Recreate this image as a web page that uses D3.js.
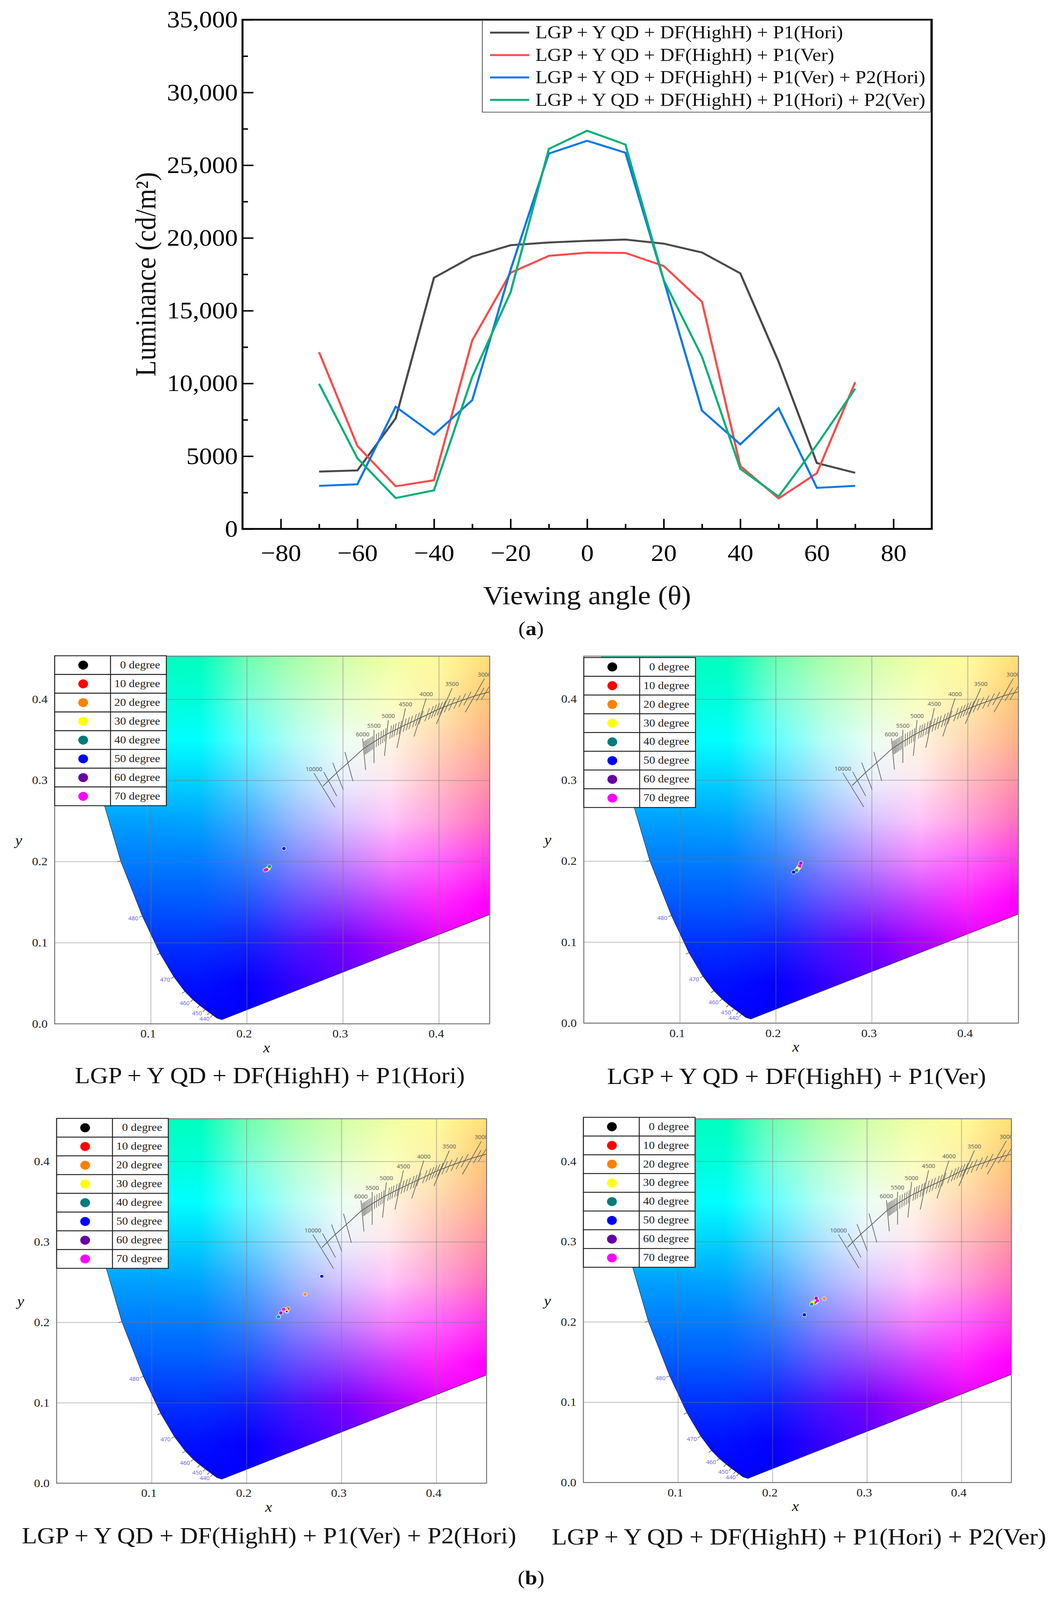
<!DOCTYPE html>
<html>
<head>
<meta charset="utf-8">
<script src="https://cdn.jsdelivr.net/npm/d3@7"></script>
<style>
  html, body { margin: 0; background: #fff; overflow: hidden; }
  text { font-family: "Liberation Serif", serif; }
</style>
</head>
<body>
<div id="root"></div>
<script>
// (a) luminance vs viewing angle
var angles = [-70, -60, -50, -40, -30, -20, -10, 0, 10, 20, 30, 40, 50, 60, 70];
var seriesNames = [
  'LGP + Y QD + DF(HighH) + P1(Hori)',
  'LGP + Y QD + DF(HighH) + P1(Ver)',
  'LGP + Y QD + DF(HighH) + P1(Ver) + P2(Hori)',
  'LGP + Y QD + DF(HighH) + P1(Hori) + P2(Ver)'
];
var lumHori = [3940, 4020, 7600, 17260, 18715, 19500, 19690, 19800, 19890, 19610, 19000, 17570, 11500, 4525, 3855];
var lumVer = [12150, 5700, 2930, 3350, 12960, 17600, 18770, 18990, 18970, 18070, 15610, 4330, 2095, 3830, 10080];
var lumVerHori = [2960, 3070, 8400, 6480, 8850, 17800, 25800, 26680, 25860, 17100, 8130, 5810, 8300, 2820, 2960];
var lumHoriVer = [9970, 4860, 2120, 2650, 10450, 16260, 26120, 27370, 26420, 17100, 11840, 4130, 2230, 5780, 9640];
var lumSeries = [lumHori, lumVer, lumVerHori, lumHoriVer];
var lineColors = ['#4a4a4a', '#fb4b4b', '#0a78e8', '#07b074'];
var xTicks = [-80, -60, -40, -20, 0, 20, 40, 60, 80];
var xMinorTicks = [-70, -50, -30, -10, 10, 30, 50, 70];
var yTicks = [0, 5000, 10000, 15000, 20000, 25000, 30000, 35000];
var yTickLabels = ['0', '5000', '10,000', '15,000', '20,000', '25,000', '30,000', '35,000'];
var yMinorTicks = [2500, 7500, 12500, 17500, 22500, 27500, 32500];

// (b) chromaticity of the eight angles, one list per panel
var degreeLabels = ['0 degree', '10 degree', '20 degree', '30 degree', '40 degree', '50 degree', '60 degree', '70 degree'];
var legendColors = ['#000000', '#ff0000', '#ff8000', '#ffff00', '#007b7b', '#0000ff', '#6600a6', '#ff00ff'];
var markColors = ['#202020', '#f04030', '#ff9000', '#ffff00', '#009a80', '#0000f0', '#ad14a0', '#ff00f0'];
var pointsX1 = [0.2222, 0.2222, 0.2215, 0.2222, 0.2236, 0.2387, 0.2205, 0.2192];
var pointsY1 = [0.1912, 0.1912, 0.1905, 0.1912, 0.1938, 0.2160, 0.1900, 0.1893];
var pointsX2 = [0.2236, 0.2245, 0.2218, 0.2236, 0.2218, 0.2187, 0.2262, 0.2252];
var pointsY2 = [0.1913, 0.1925, 0.1885, 0.1913, 0.1885, 0.1863, 0.1975, 0.1942];
var pointsX3 = [0.2424, 0.2437, 0.2617, 0.2421, 0.2337, 0.2794, 0.2362, 0.2392];
var pointsY3 = [0.2136, 0.2168, 0.2348, 0.2159, 0.2067, 0.2572, 0.2116, 0.2161];
var pointsX4 = [0.2459, 0.2445, 0.2548, 0.2431, 0.2416, 0.2338, 0.2464, 0.2476];
var pointsY4 = [0.2244, 0.2238, 0.2289, 0.2240, 0.2219, 0.2088, 0.2296, 0.2263];
var pointLists = [[pointsX1, pointsY1], [pointsX2, pointsY2], [pointsX3, pointsY3], [pointsX4, pointsY4]];

// spectral locus, short to long edge of the visible window
var locusX = [0.0082, 0.0235, 0.0454, 0.0687, 0.0913, 0.1096, 0.1241, 0.1355, 0.1440, 0.1510, 0.1566, 0.1611, 0.1644, 0.1689, 0.1741];
var locusY = [0.5384, 0.4127, 0.2950, 0.2007, 0.1327, 0.0868, 0.0578, 0.0399, 0.0297, 0.0227, 0.0177, 0.0138, 0.0109, 0.0069, 0.0050];
var locusNm = [500, 495, 490, 485, 480, 475, 470, 465, 460, 455, 450, 445, 440, 430, 380];
var labelledNm = [480, 470, 460, 450, 440];
var tickedNm = [485, 480, 475, 470, 465, 460, 455, 450, 445, 440];
var purpleEnd = [0.7347, 0.2653];

// colours on a coarse x,y grid
var gamutXs = [0.05, 0.1, 0.15, 0.2, 0.25, 0.3, 0.35, 0.4, 0.45];
var gamutYs = [0.45, 0.4, 0.35, 0.3, 0.25, 0.2, 0.15, 0.1, 0.05, 0];
var gamutColors = [
  ['#00ffbe', '#00ffbe', '#00ffbe', '#6effb4', '#aaffaa', '#d2ffaa', '#f0ffa5', '#fffa9b', '#ffe178'],
  ['#00ffd7', '#00ffd7', '#00ffdc', '#78ffdc', '#b4ffd2', '#e1ffcd', '#faffbe', '#fff0aa', '#ffc878'],
  ['#00ffff', '#00ffff', '#00ffff', '#64ffff', '#b4fff5', '#ebfff5', '#fff5e1', '#ffd7b4', '#ffb48c'],
  ['#00d2ff', '#00d2ff', '#00d2ff', '#5ad7ff', '#aae1ff', '#ebf0ff', '#ffe6f0', '#ffbec3', '#ff96a5'],
  ['#00a0ff', '#00a0ff', '#00a5ff', '#46aaff', '#9bb9ff', '#d7c3ff', '#ffc3fa', '#ffa0dc', '#ff73be'],
  ['#007dff', '#007dff', '#007dff', '#3282ff', '#8287ff', '#be87ff', '#f582ff', '#ff64ff', '#ff3ceb'],
  ['#005aff', '#005aff', '#005aff', '#1e55ff', '#6450ff', '#9646ff', '#cd3cff', '#ff28ff', '#ff00ff'],
  ['#0032ff', '#0032ff', '#0032ff', '#0f23ff', '#4614ff', '#7300ff', '#aa00ff', '#dc00ff', '#ff00ff'],
  ['#0014ff', '#0014ff', '#000fff', '#0500ff', '#3200ff', '#5a00ff', '#8200ff', '#b400ff', '#e600ff'],
  ['#0000ff', '#0000ff', '#0000ff', '#0000ff', '#2800ff', '#5000ff', '#7800ff', '#b400ff', '#ff00ff']
];

// blackbody curve and its isotherms
var bbX = [0.2795, 0.2852, 0.2938, 0.3054, 0.3210, 0.3325, 0.3459, 0.3645, 0.3832, 0.4000, 0.4143, 0.4376, 0.4532];
var bbY = [0.2930, 0.2996, 0.3094, 0.3216, 0.3385, 0.3474, 0.3569, 0.3679, 0.3782, 0.3878, 0.3944, 0.4040, 0.4091];
var isoTopX = [0.2700, 0.2802, 0.2896, 0.3023, 0.3207, 0.3325, 0.3474, 0.3653, 0.3869, 0.4138, 0.4476];
var isoTopY = [0.3088, 0.3103, 0.3216, 0.3349, 0.3515, 0.3621, 0.3741, 0.3888, 0.4010, 0.4135, 0.4253];
var isoBottomX = [0.2918, 0.2938, 0.3005, 0.3106, 0.3238, 0.3325, 0.3434, 0.3565, 0.3742, 0.3975, 0.4275];
var isoBottomY = [0.2667, 0.2804, 0.2882, 0.2988, 0.3128, 0.3212, 0.3300, 0.3400, 0.3540, 0.3694, 0.3838];
var isoLabels = ['10000', '', '', '', '6000', '5500', '5000', '4500', '4000', '3500', '3000'];
var shortTickX = [0.3229, 0.3241, 0.3253, 0.3266, 0.3280, 0.3295, 0.3311, 0.3350, 0.3373, 0.3397, 0.3420, 0.3443,
  0.3498, 0.3521, 0.3544, 0.3575, 0.3599, 0.3645, 0.3677, 0.3708, 0.3747, 0.3778, 0.3816, 0.3879, 0.3918, 0.3949,
  0.3980, 0.4011, 0.4042, 0.4089, 0.4135, 0.4190, 0.4244, 0.4299, 0.4431, 0.4485];
var gridTicks = [0.1, 0.2, 0.3, 0.4];
var yAxisTicks = [0, 0.1, 0.2, 0.3, 0.4];
var axisMax = 0.453;

// pixel boxes of the five plots
var lumBox = { l: 621, r: 2386, t: 55, b: 1476 };
var panelBoxes = [
  { l: 140, r: 1254, t: 1831, b: 2857, legendTop: 1830, captionX: 691, captionY: 3002 },
  { l: 1495, r: 2608, t: 1831, b: 2855, legendTop: 1835, captionX: 2040, captionY: 3004 },
  { l: 145, r: 1246, t: 3122, b: 4139, legendTop: 3121, captionX: 689, captionY: 4287 },
  { l: 1494, r: 2590, t: 3122, b: 4137, legendTop: 3118, captionX: 2046, captionY: 4290 }
];

// the real window is shorter than 4465, so the layout is fitted to it
var svg = d3.select('#root')
  .append('svg')
    .attr('viewBox', '0 0 2717 4465')
    .attr('preserveAspectRatio', 'none')
    .style('width', '100vw')
    .style('height', '100vh')
    .style('display', 'block');

var drawLuminance = () => {
  var x = d3.scaleLinear().domain([-90, 90]).range([lumBox.l, lumBox.r]);
  var y = d3.scaleLinear().domain([0, 35000]).range([lumBox.b, lumBox.t]);
  var g = svg.append('g');

  var line = d3.line()
    .x((d, i) => x(angles[i]))
    .y(d => y(d));
  g.selectAll('path.lum')
    .data(lumSeries)
    .enter()
    .append('path')
      .attr('class', 'lum')
      .attr('d', line)
      .attr('fill', 'none')
      .attr('stroke', (d, i) => lineColors[i])
      .attr('stroke-width', 5.5);

  // ticks point inward
  var bottom = g.append('g')
    .attr('transform', 'translate(0,' + lumBox.b + ')')
    .call(d3.axisBottom(x).tickValues(xTicks).tickSizeInner(-28).tickSizeOuter(0)
      .tickFormat(d => String(d).replace('-', '\u2212')));
  bottom.selectAll('text').attr('font-size', 66).attr('y', 42).attr('dy', '.71em')
    .style('font-family', '"Liberation Serif", serif');
  g.append('g')
    .attr('transform', 'translate(0,' + lumBox.b + ')')
    .call(d3.axisBottom(x).tickValues(xMinorTicks).tickSizeInner(-14).tickSizeOuter(0).tickFormat(''));

  var left = g.append('g')
    .attr('transform', 'translate(' + lumBox.l + ',0)')
    .call(d3.axisLeft(y).tickValues(yTicks).tickSizeInner(-28).tickSizeOuter(0)
      .tickFormat((d, i) => yTickLabels[i]));
  left.selectAll('text').attr('font-size', 66).attr('x', -12)
    .style('font-family', '"Liberation Serif", serif');
  g.append('g')
    .attr('transform', 'translate(' + lumBox.l + ',0)')
    .call(d3.axisLeft(y).tickValues(yMinorTicks).tickSizeInner(-14).tickSizeOuter(0).tickFormat(''));

  g.selectAll('.tick line').attr('stroke', '#000').attr('stroke-width', 4);
  g.selectAll('.domain').remove();

  g.append('rect')
    .attr('x', lumBox.l)
    .attr('y', lumBox.t)
    .attr('width', lumBox.r - lumBox.l)
    .attr('height', lumBox.b - lumBox.t)
    .attr('fill', 'none')
    .attr('stroke', '#000')
    .attr('stroke-width', 5);

  // legend
  g.append('rect')
    .attr('x', 1235)
    .attr('y', 57)
    .attr('width', 1148)
    .attr('height', 256)
    .attr('fill', '#fff')
    .attr('stroke', '#555')
    .attr('stroke-width', 2);
  seriesNames.forEach((name, i) => {
    var rowY = 91 + i * 62.6;
    g.append('line')
      .attr('x1', 1255)
      .attr('x2', 1355)
      .attr('y1', rowY)
      .attr('y2', rowY)
      .attr('stroke', lineColors[i])
      .attr('stroke-width', 5.5);
    g.append('text')
      .attr('x', 1371)
      .attr('y', rowY)
      .attr('dy', '.32em')
      .attr('font-size', 50.5)
      .attr('fill', '#111')
      .text(name);
  });

  g.append('text')
    .attr('transform', 'translate(398,' + (lumBox.t + lumBox.b) / 2 + ') rotate(-90)')
    .attr('text-anchor', 'middle')
    .attr('font-size', 74)
    .attr('fill', '#111')
    .text('Luminance (cd/m\u00b2)');
  g.append('text')
    .attr('x', x(0))
    .attr('y', 1686)
    .attr('text-anchor', 'middle')
    .attr('font-size', 74)
    .attr('fill', '#111')
    .text('Viewing angle (\u03b8)');
};

// colour field painted once from the grid and reused, the polygon clip does the rest
var gamutImage = () => {
  var n = 600;
  var canvas = document.createElement('canvas');
  canvas.width = n;
  canvas.height = n;
  var ctx = canvas.getContext('2d');
  var img = ctx.createImageData(n, n);
  var rgb = gamutColors.map(row => row.map(c => d3.rgb(c)));
  var colAt = d3.scaleLinear().domain(gamutXs).range(d3.range(gamutXs.length)).clamp(true);
  var rowAt = d3.scaleLinear().domain(gamutYs.slice().reverse()).range(d3.range(gamutYs.length).reverse()).clamp(true);
  for (var row = 0; row < n; row++) {
    for (var col = 0; col < n; col++) {
      var fx = colAt((col + 0.5) / n * axisMax);
      var fy = rowAt((n - row - 0.5) / n * axisMax);
      var i0 = Math.min(Math.floor(fx), gamutXs.length - 2), j0 = Math.min(Math.floor(fy), gamutYs.length - 2);
      var u = fx - i0, v = fy - j0;
      var a = rgb[j0][i0], b = rgb[j0][i0 + 1], c = rgb[j0 + 1][i0], d = rgb[j0 + 1][i0 + 1];
      var k = (row * n + col) * 4;
      ['r', 'g', 'b'].forEach((ch, m) => {
        img.data[k + m] = (a[ch] * (1 - u) + b[ch] * u) * (1 - v) + (c[ch] * (1 - u) + d[ch] * u) * v;
      });
      img.data[k + 3] = 255;
    }
  }
  ctx.putImageData(img, 0, 0);
  return canvas.toDataURL('image/png');
};

var drawPanel = (box, i, href) => {
  var x = d3.scaleLinear().domain([0, axisMax]).range([box.l, box.r]);
  var y = d3.scaleLinear().domain([0, axisMax]).range([box.b, box.t]);
  var g = svg.append('g');
  var w = box.r - box.l, h = box.b - box.t;

  var defs = g.append('defs');
  defs.append('clipPath').attr('id', 'box' + i)
    .append('rect').attr('x', box.l).attr('y', box.t).attr('width', w).attr('height', h);

  var outline = locusX.map((d, j) => [d, locusY[j]]);
  var path = d3.line().x(d => x(d[0])).y(d => y(d[1]));
  var gamut = outline.concat([purpleEnd, [purpleEnd[0], locusY[0]]]);
  defs.append('clipPath').attr('id', 'gamut' + i)
    .append('path').attr('d', path(gamut) + 'Z');

  var clipped = g.append('g').attr('clip-path', 'url(#box' + i + ')');
  clipped.append('g').attr('clip-path', 'url(#gamut' + i + ')')
    .append('image')
      .attr('href', href)
      .attr('x', box.l)
      .attr('y', box.t)
      .attr('width', w)
      .attr('height', h)
      .attr('preserveAspectRatio', 'none');
  clipped.append('path')
    .attr('d', path(outline.concat([purpleEnd])))
    .attr('fill', 'none')
    .attr('stroke', '#222')
    .attr('stroke-width', 1.2);

  // grid comes from the axes
  var bottom = g.append('g')
    .attr('transform', 'translate(0,' + box.b + ')')
    .call(d3.axisBottom(x).tickValues(gridTicks).tickSizeInner(-h).tickSizeOuter(0).tickFormat(d3.format('.1f')));
  bottom.selectAll('text').attr('font-size', 32).attr('fill', '#222')
    .attr('x', -7).attr('y', 16).attr('dy', '.71em')
    .style('font-family', '"Liberation Serif", serif');
  var left = g.append('g')
    .attr('transform', 'translate(' + box.l + ',0)')
    .call(d3.axisLeft(y).tickValues(yAxisTicks).tickSizeInner(-w).tickSizeOuter(0).tickFormat(d3.format('.1f')));
  left.selectAll('text').attr('font-size', 32).attr('fill', '#222').attr('x', -18)
    .style('font-family', '"Liberation Serif", serif');
  g.selectAll('.tick line').attr('stroke', 'rgba(120,120,120,0.42)').attr('stroke-width', 2.5);
  g.selectAll('.domain').remove();

  g.append('rect')
    .attr('x', box.l)
    .attr('y', box.t)
    .attr('width', w)
    .attr('height', h)
    .attr('fill', 'none')
    .attr('stroke', '#777')
    .attr('stroke-width', 2.5);

  // wavelength ticks, normal to the locus
  tickedNm.forEach(nm => {
    var j = locusNm.indexOf(nm);
    var dx = x(locusX[j + 1]) - x(locusX[j - 1]);
    var dy = y(locusY[j + 1]) - y(locusY[j - 1]);
    var len = Math.hypot(dx, dy);
    var nx = -dy / len, ny = dx / len;
    if (nx > 0) { nx = -nx; ny = -ny; }
    var px = x(locusX[j]), py = y(locusY[j]);
    g.append('line')
      .attr('x1', px)
      .attr('y1', py)
      .attr('x2', px + nx * 9)
      .attr('y2', py + ny * 9)
      .attr('stroke', '#555')
      .attr('stroke-width', 1.6);
    if (labelledNm.indexOf(nm) >= 0) {
      g.append('text')
        .attr('x', px + nx * 9 - 2)
        .attr('y', py + ny * 9 + 4)
        .attr('dy', '.32em')
        .attr('text-anchor', 'end')
        .attr('font-size', 15)
        .attr('fill', '#6a5cf5')
        .style('font-family', '"Open Sans", sans-serif')
        .text(nm);
    }
  });

  // blackbody curve
  var bbLine = d3.line().x(d => x(d[0])).y(d => y(d[1]));
  clipped.append('path')
    .attr('d', bbLine(bbX.map((d, j) => [d, bbY[j]])))
    .attr('fill', 'none')
    .attr('stroke', '#5a5a5a')
    .attr('stroke-width', 2);
  var bbAt = d3.scaleLinear().domain(bbX).range(bbY);
  var slopeAt = d3.scaleLinear()
    .domain(isoTopX.map((d, j) => (d + isoBottomX[j]) / 2))
    .range(isoTopX.map((d, j) => (d - isoBottomX[j]) / (isoTopY[j] - isoBottomY[j])));
  isoTopX.forEach((d, j) => {
    clipped.append('line')
      .attr('x1', x(d))
      .attr('y1', y(isoTopY[j]))
      .attr('x2', x(isoBottomX[j]))
      .attr('y2', y(isoBottomY[j]))
      .attr('stroke', '#666')
      .attr('stroke-width', 1.8);
    if (isoLabels[j]) {
      clipped.append('text')
        .attr('x', x(d))
        .attr('y', y(isoTopY[j]) - 6)
        .attr('text-anchor', 'middle')
        .attr('font-size', 15)
        .attr('fill', '#555')
        .style('font-family', '"Open Sans", sans-serif')
        .text(isoLabels[j]);
    }
  });
  shortTickX.forEach(d => {
    var my = bbAt(d);
    var half = 0.0082;
    clipped.append('line')
      .attr('x1', x(d + slopeAt(d) * half))
      .attr('y1', y(my + half))
      .attr('x2', x(d - slopeAt(d) * half))
      .attr('y2', y(my - half))
      .attr('stroke', '#666')
      .attr('stroke-width', 1.6);
  });

  // measured points with their pale halo
  var px = pointLists[i][0], py = pointLists[i][1];
  var order = d3.range(px.length);
  g.selectAll('circle.halo')
    .data(order)
    .enter()
    .append('circle')
      .attr('class', 'halo')
      .attr('cx', d => x(px[d]))
      .attr('cy', d => y(py[d]))
      .attr('r', 6.5)
      .attr('fill', '#fff')
      .attr('fill-opacity', 0.55);
  g.selectAll('circle.mark')
    .data(order)
    .enter()
    .append('circle')
      .attr('class', 'mark')
      .attr('cx', d => x(px[d]))
      .attr('cy', d => y(py[d]))
      .attr('r', d => d === 0 ? 2.5 : 4.2)
      .attr('fill', d => markColors[d]);

  // degree table
  var rowH = 52.3;
  var rows = g.append('g').selectAll('g')
    .data(degreeLabels)
    .enter()
    .append('g')
      .attr('transform', (d, j) => 'translate(' + box.l + ',' + (box.legendTop + j * rowH) + ')');
  rows.append('rect')
    .attr('width', 286)
    .attr('height', rowH)
    .attr('fill', '#fff')
    .attr('stroke', '#222')
    .attr('stroke-width', 2.5);
  rows.append('line')
    .attr('x1', 143)
    .attr('x2', 143)
    .attr('y1', 0)
    .attr('y2', rowH)
    .attr('stroke', '#222')
    .attr('stroke-width', 2.5);
  rows.append('circle')
    .attr('cx', 73)
    .attr('cy', rowH / 2)
    .attr('r', 12.5)
    .attr('fill', (d, j) => legendColors[j]);
  rows.append('text')
    .attr('x', 270)
    .attr('y', rowH / 2)
    .attr('dy', '.3em')
    .attr('text-anchor', 'end')
    .attr('font-size', 30)
    .attr('fill', '#222')
    .text(d => d);

  g.append('text')
    .attr('x', box.l + 543)
    .attr('y', box.b + 80)
    .attr('text-anchor', 'middle')
    .attr('font-size', 40)
    .attr('font-style', 'italic')
    .attr('fill', '#111')
    .text('x');
  g.append('text')
    .attr('x', box.l - 92)
    .attr('y', (box.t + box.b) / 2 + 14)
    .attr('text-anchor', 'middle')
    .attr('font-size', 40)
    .attr('font-style', 'italic')
    .attr('fill', '#111')
    .text('y');
  g.append('text')
    .attr('x', box.captionX)
    .attr('y', box.captionY)
    .attr('dy', '.32em')
    .attr('text-anchor', 'middle')
    .attr('font-size', 64)
    .attr('fill', '#111')
    .text(seriesNames[i]);
};

drawLuminance();
var href = gamutImage();
panelBoxes.forEach((box, i) => drawPanel(box, i, href));

var subCaption = (letter, cy) => {
  var t = svg.append('text')
    .attr('x', 1360)
    .attr('y', cy)
    .attr('dy', '.32em')
    .attr('text-anchor', 'middle')
    .attr('font-size', 56)
    .attr('fill', '#111');
  t.append('tspan').text('(');
  t.append('tspan').attr('font-weight', 'bold').text(letter);
  t.append('tspan').text(')');
};
subCaption('a', 1755);
subCaption('b', 4404);
</script>
</body>
</html>
